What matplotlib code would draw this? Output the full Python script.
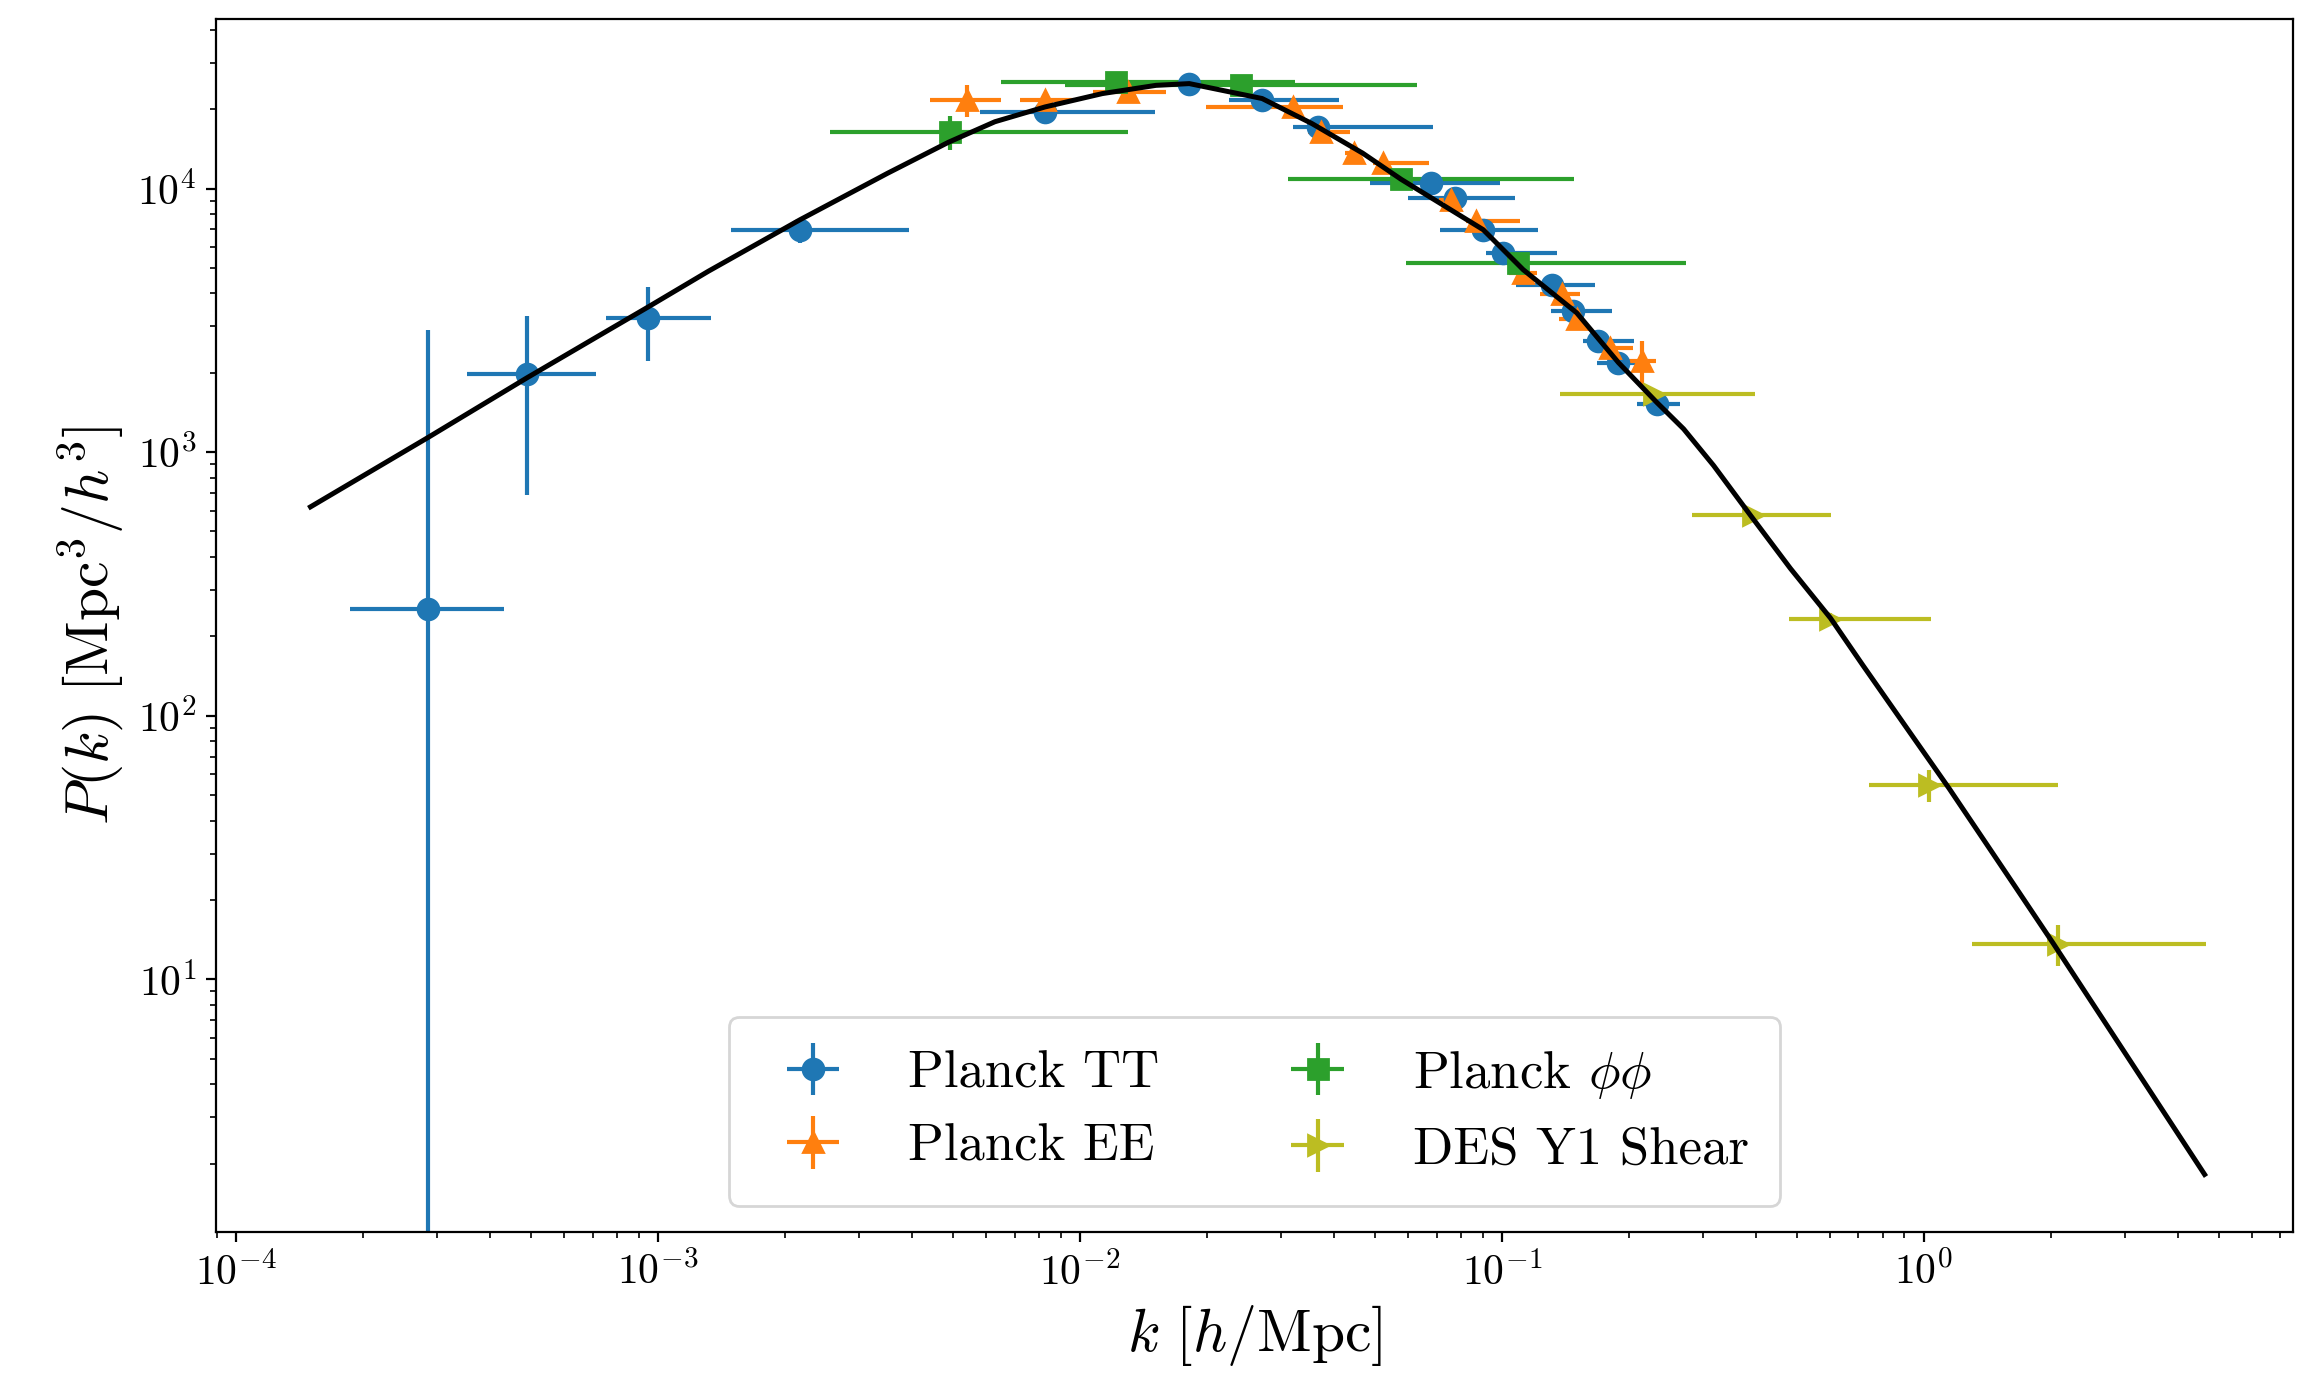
import matplotlib
matplotlib.use("Agg")
import matplotlib.pyplot as plt
import numpy as np

plt.rcParams['font.family'] = 'serif'
plt.rcParams['font.serif'] = ['cmr10']
plt.rcParams['mathtext.fontset'] = 'cm'
plt.rcParams['axes.unicode_minus'] = False
plt.rcParams['axes.formatter.use_mathtext'] = True

# theory curve P(k)
k_th = [1.50e-4, 2.85e-4, 4.88e-4, 7.33e-4, 9.54e-4, 1.316e-3, 2.167e-3, 3.498e-3,
        4.875e-3, 6.285e-3, 8.26e-3, 1.13e-2, 1.514e-2, 1.816e-2, 2.702e-2,
        3.545e-2, 4.683e-2, 5.771e-2, 9.03e-2, 0.1123, 0.1504, 0.1889, 0.2328,
        0.2696, 0.3175, 0.3883, 0.4829, 0.6012, 0.7161, 0.9452, 1.148, 1.646,
        2.026, 4.63]
p_th = [620, 1137, 1911, 2798, 3579, 4858, 7608, 11430,
        14980, 17930, 20400, 22930, 24640, 25020, 21960,
        17650, 13610, 10840, 6982, 4925, 3379, 2187, 1545,
        1225, 890, 576, 362, 234.4, 155.9, 82.6, 53.0, 22.5,
        13.7, 1.818]

# Planck TT
k_tt = [2.85e-4, 4.88e-4, 9.48e-4, 2.174e-3, 8.28e-3, 1.816e-2, 2.702e-2, 3.66e-2,
        6.8e-2, 7.73e-2, 9.02e-2, 0.1006, 0.1311, 0.1476, 0.1692, 0.1889, 0.2328]
p_tt = [255, 1984, 3230, 6937, 19490, 25020, 21650, 17160,
        10470, 9200, 6982, 5693, 4323, 3431, 2641, 2187, 1521]
klo_tt = [1.861e-4, 3.526e-4, 7.516e-4, 1.489e-3, 5.8e-3, 9.59e-3, 2.261e-2, 3.192e-2,
          4.856e-2, 5.99e-2, 7.12e-2, 9.17e-2, 0.1082, 0.1307, 0.1561, 0.1678, 0.2086]
khi_tt = [4.319e-4, 7.123e-4, 1.334e-3, 3.934e-3, 1.504e-2, 2.214e-2, 4.105e-2, 6.856e-2,
          9.89e-2, 0.1073, 0.1219, 0.135, 0.1662, 0.1819, 0.2052, 0.2137, 0.2649]
perr_tt = [2664, 1297, 1005, 700, 600, 500, 450, 400,
           250, 200, 160, 130, 100, 80, 60, 50, 40]

# Planck EE
k_ee = [5.386e-3, 8.28e-3, 1.298e-2, 3.192e-2, 3.736e-2, 4.461e-2, 5.213e-2,
        7.59e-2, 8.7e-2, 0.1123, 0.1385, 0.1504, 0.1804, 0.2144]
p_ee = [21650, 21650, 23260, 20400, 16430, 13610, 12470,
        9060, 7503, 4788, 3966, 3189, 2493, 2218]
klo_ee = [4.418e-3, 7.226e-3, 1.075e-2, 1.994e-2, 3.472e-2, 4.25e-2, 4.947e-2,
          7.1e-2, 8.24e-2, 0.104, 0.123, 0.1363, 0.167, 0.198]
khi_ee = [6.51e-3, 9.69e-3, 1.6e-2, 4.19e-2, 4.373e-2, 4.7e-2, 6.72e-2,
          8.2e-2, 0.1103, 0.121, 0.1532, 0.1531, 0.205, 0.232]
perr_ee = [3000, 1200, 900, 700, 500, 400, 350, 300, 250, 150, 120, 100, 90, 420]

# Planck phi-phi
k_pp = [4.907e-3, 1.219e-2, 2.407e-2, 5.771e-2, 0.1092]
p_pp = [16430, 25380, 24640, 10840, 5225]
klo_pp = [2.556e-3, 6.51e-3, 9.2e-3, 3.11e-2, 5.93e-2]
khi_pp = [1.298e-2, 3.228e-2, 6.3e-2, 0.1483, 0.2735]
perr_pp = [2450, 1000, 800, 500, 250]

# DES Y1 shear
k_des = [0.2298, 0.3947, 0.5984, 1.028, 2.076]
p_des = [1660, 579.7, 232.9, 54.8, 13.64]
klo_des = [0.1376, 0.283, 0.4794, 0.7409, 1.302]
khi_des = [0.398, 0.6033, 1.042, 2.084, 4.675]
perr_des = [60, 25, 12, 7.6, 2.4]


def xerr(k, lo, hi):
    k = np.array(k)
    return [k - np.array(lo), np.array(hi) - k]


fig, ax = plt.subplots(figsize=(11.555, 6.925), dpi=200)
fig.subplots_adjust(left=0.0935, right=0.9922, bottom=0.1105, top=0.9863)

eb = dict(linestyle='none', elinewidth=1.5, markersize=7.5, capsize=0)

ax.errorbar(k_tt, p_tt, yerr=perr_tt, xerr=xerr(k_tt, klo_tt, khi_tt),
            color='C0', marker='o', label='Planck TT', **eb)
ax.plot(k_th, p_th, color='black', lw=1.8, zorder=2.5)
ax.errorbar(k_ee, p_ee, yerr=perr_ee, xerr=xerr(k_ee, klo_ee, khi_ee),
            color='C1', marker='^', label='Planck EE', **eb)
ax.errorbar(k_pp, p_pp, yerr=perr_pp, xerr=xerr(k_pp, klo_pp, khi_pp),
            color='C2', marker='s', label=r'Planck $\phi\phi$', **eb)
ax.errorbar(k_des, p_des, yerr=perr_des, xerr=xerr(k_des, klo_des, khi_des),
            color='C8', marker='>', label='DES Y1 Shear', **eb)

ax.set_xscale('log')
ax.set_yscale('log')
ax.set_xlim(8.96e-5, 7.5)
ax.set_ylim(1.1, 4.4e4)

ax.set_xlabel(r'$k\ [h/\mathrm{Mpc}]$', fontsize=21.5)
ax.set_ylabel(r'$P(k)\ [\mathrm{Mpc}^3/h^3]$', fontsize=21.5)
ax.tick_params(labelsize=15)

ax.legend(loc='lower center', ncol=2, fontsize=19, borderpad=0.6)

fig.savefig('out.png', dpi=200)
